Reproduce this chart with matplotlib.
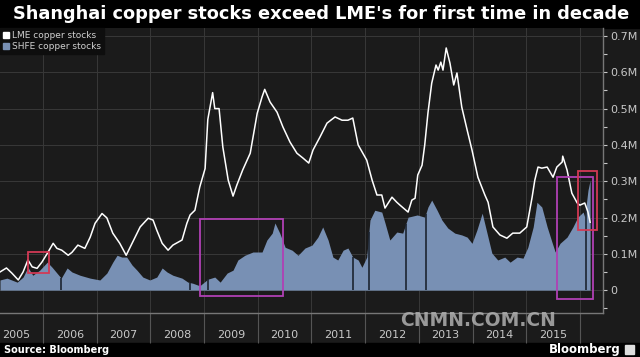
import numpy as np
import matplotlib.pyplot as plt
from matplotlib.patches import Rectangle

# LME copper stocks (million tonnes), dates as decimal years
lme_dates = [2005.20, 2005.32, 2005.42, 2005.54, 2005.63, 2005.72, 2005.80, 2005.89, 2005.98,
             2006.08, 2006.19, 2006.26, 2006.35, 2006.47, 2006.54, 2006.65, 2006.78, 2006.88, 2006.97,
             2007.10, 2007.19, 2007.30, 2007.43, 2007.55, 2007.66, 2007.81, 2007.96,
             2008.05, 2008.12, 2008.22, 2008.33, 2008.42, 2008.59, 2008.68, 2008.74, 2008.83, 2008.92,
             2009.02, 2009.07, 2009.16, 2009.20, 2009.28, 2009.35, 2009.45, 2009.54, 2009.61, 2009.72, 2009.86, 2009.99,
             2010.08, 2010.13, 2010.23, 2010.36, 2010.47, 2010.60, 2010.73, 2010.84, 2010.95,
             2011.03, 2011.16, 2011.29, 2011.44, 2011.57, 2011.68, 2011.77, 2011.87,
             2012.03, 2012.13, 2012.22, 2012.31, 2012.37, 2012.50, 2012.59, 2012.65, 2012.80, 2012.87, 2012.93, 2012.98,
             2013.06, 2013.11, 2013.17, 2013.24, 2013.32, 2013.36, 2013.41, 2013.45, 2013.51, 2013.58, 2013.65, 2013.71,
             2013.80, 2013.90, 2013.99,
             2014.10, 2014.23, 2014.29, 2014.38, 2014.51, 2014.64, 2014.75, 2014.88,
             2015.01, 2015.11, 2015.16, 2015.22, 2015.29, 2015.39, 2015.50, 2015.57, 2015.67, 2015.68, 2015.76,
             2015.85, 2015.95, 2016.00, 2016.09, 2016.15, 2016.19]
lme_stocks = [0.050, 0.061, 0.047, 0.028, 0.050, 0.083, 0.064, 0.060, 0.077,
              0.101, 0.129, 0.115, 0.110, 0.096, 0.104, 0.124, 0.115, 0.146, 0.184,
              0.211, 0.199, 0.157, 0.129, 0.096, 0.129, 0.174, 0.198,
              0.193, 0.165, 0.129, 0.110, 0.124, 0.138, 0.184, 0.207, 0.220, 0.284,
              0.335, 0.470, 0.544, 0.500, 0.500, 0.394, 0.303, 0.259, 0.289, 0.331, 0.377, 0.487,
              0.532, 0.553, 0.518, 0.490, 0.449, 0.408, 0.377, 0.364, 0.350,
              0.386, 0.422, 0.460, 0.477, 0.468, 0.468, 0.474, 0.400,
              0.358, 0.303, 0.262, 0.262, 0.226, 0.256, 0.242, 0.234, 0.215, 0.248, 0.253, 0.317,
              0.344, 0.400, 0.488, 0.570, 0.620, 0.606, 0.628, 0.606, 0.667, 0.625, 0.565, 0.598,
              0.504, 0.441, 0.386,
              0.311, 0.262, 0.242, 0.174, 0.152, 0.143, 0.157, 0.157,
              0.174, 0.256, 0.303, 0.339, 0.336, 0.339, 0.311, 0.339, 0.353, 0.369, 0.331,
              0.267, 0.240, 0.234, 0.240, 0.215, 0.187]

# SHFE copper stocks (million tonnes)
shfe_dates = [2005.20, 2005.33, 2005.52, 2005.63, 2005.72, 2005.81, 2005.94,
              2006.08, 2006.17, 2006.26, 2006.34, 2006.45, 2006.54, 2006.69, 2006.88,
              2007.06, 2007.19, 2007.30, 2007.38, 2007.47, 2007.56, 2007.66, 2007.75, 2007.86, 2007.99,
              2008.12, 2008.22, 2008.31, 2008.42, 2008.59, 2008.70, 2008.79, 2008.92,
              2009.07, 2009.20, 2009.30, 2009.43, 2009.54, 2009.63, 2009.76, 2009.91,
              2010.08, 2010.17, 2010.27, 2010.32, 2010.41, 2010.51, 2010.64, 2010.75, 2010.88,
              2011.01, 2011.12, 2011.21, 2011.31, 2011.40, 2011.49, 2011.59, 2011.68, 2011.77, 2011.87, 2011.94,
              2012.03, 2012.09, 2012.18, 2012.31, 2012.37, 2012.46, 2012.59, 2012.70, 2012.80, 2012.97,
              2013.11, 2013.17, 2013.24, 2013.34, 2013.43, 2013.54, 2013.67, 2013.80, 2013.90, 2013.99,
              2014.08, 2014.18, 2014.27, 2014.36, 2014.47, 2014.60, 2014.70, 2014.83, 2014.94,
              2015.03, 2015.13, 2015.20, 2015.29, 2015.39, 2015.48, 2015.54, 2015.63, 2015.76, 2015.87, 2015.96,
              2016.06, 2016.09, 2016.15, 2016.19]
shfe_stocks = [0.028, 0.033, 0.022, 0.036, 0.063, 0.041, 0.055,
               0.077, 0.063, 0.047, 0.033, 0.061, 0.050, 0.041, 0.033,
               0.028, 0.047, 0.077, 0.096, 0.091, 0.091, 0.069, 0.055, 0.036, 0.028,
               0.036, 0.061, 0.050, 0.041, 0.033, 0.022, 0.019, 0.012,
               0.030, 0.036, 0.022, 0.047, 0.055, 0.083, 0.096, 0.105,
               0.105, 0.138, 0.157, 0.185, 0.157, 0.118, 0.110, 0.096, 0.116,
               0.124, 0.146, 0.174, 0.138, 0.091, 0.083, 0.110, 0.116, 0.091, 0.083, 0.063,
               0.091, 0.193, 0.220, 0.215, 0.185, 0.138, 0.160, 0.157, 0.201, 0.207,
               0.201, 0.229, 0.248, 0.220, 0.193, 0.171, 0.157, 0.152, 0.146, 0.129,
               0.165, 0.212, 0.157, 0.102, 0.083, 0.091, 0.077, 0.091, 0.088,
               0.118, 0.174, 0.242, 0.229, 0.174, 0.132, 0.105, 0.129, 0.146, 0.174, 0.201,
               0.215, 0.201, 0.275, 0.303]
# days where the SHFE series drops to zero
shfe_gaps = [2006.34, 2008.74, 2009.07, 2011.77, 2012.07, 2012.76, 2013.13, 2016.11]

years = list(range(2005, 2016))
y_ticks = [0, 0.1, 0.2, 0.3, 0.4, 0.5, 0.6, 0.7]
y_labels = ["0", "0.1M", "0.2M", "0.3M", "0.4M", "0.5M", "0.6M", "0.7M"]

# highlight boxes: (x0, x1, y0, y1, colour)
boxes = [(2005.72, 2006.11, 0.047, 0.105, "#d23a55"),
         (2008.92, 2010.47, -0.017, 0.196, "#b040b4"),
         (2015.57, 2016.24, -0.025, 0.311, "#b040b4"),
         (2015.96, 2016.32, 0.165, 0.328, "#d23a55")]

bg = "#1b1b1b"
fig = plt.figure(figsize=(6.4, 3.57), dpi=100, facecolor=bg)
ax = fig.add_axes([0, 1 - 313 / 357, 603 / 640, 285 / 357])
ax.set_facecolor(bg)

ax.fill_between(shfe_dates, 0, shfe_stocks, color="#7890b4", lw=0, zorder=2)
ax.vlines(shfe_gaps, 0, np.interp(shfe_gaps, shfe_dates, shfe_stocks), color="#1c2430", lw=1.2, zorder=3)
ax.plot(lme_dates, lme_stocks, color="white", lw=1.1, zorder=4)

for x0, x1, y0, y1, c in boxes:
    ax.add_patch(Rectangle((x0, y0), x1 - x0, y1 - y0, fill=False, ec=c, lw=1.3, zorder=5))

ax.set_xlim(2005.2, 2016.43)
ax.set_ylim(-0.063, 0.722)

ax.yaxis.tick_right()
ax.set_yticks(y_ticks)
ax.set_yticklabels(y_labels)
ax.set_yticks(np.arange(-0.05, 0.72, 0.05), minor=True)
ax.tick_params(axis="y", which="both", colors="#c8c8c8", labelsize=8, length=3, width=0.8, pad=2)

ax.set_xticks([y + 1 for y in years])
ax.set_xticklabels([])
ax.set_xticks([y + 0.5 for y in years], minor=True)
ax.set_xticklabels([str(y) for y in years], minor=True)
ax.tick_params(axis="x", which="major", direction="out", length=21.5, color="#555555", width=0.8)
ax.tick_params(axis="x", which="minor", length=0, labelsize=8, labelcolor="#c8c8c8", pad=12)

ax.grid(True, which="major", color="#383838", lw=0.7, zorder=0)
for side in ["top", "left"]:
    ax.spines[side].set_visible(False)
for side in ["bottom", "right"]:
    ax.spines[side].set_color("#777777")
    ax.spines[side].set_linewidth(1)

leg = ax.legend(handles=[Rectangle((0, 0), 1, 1, color="white"), Rectangle((0, 0), 1, 1, color="#7890b4")],
                labels=["LME copper stocks", "SHFE copper stocks"], loc="upper left",
                bbox_to_anchor=(0, 1), fontsize=6.5, frameon=True, facecolor="#0e0e0e", edgecolor="#0e0e0e",
                framealpha=1, fancybox=False, handlelength=0.7, handleheight=0.7, handletextpad=0.3,
                borderpad=0.35, labelspacing=0.2, borderaxespad=0)
for t in leg.get_texts():
    t.set_color("#d0d0d0")

# black title and footer bands
fig.add_artist(Rectangle((0, 1 - 28 / 357), 1, 28 / 357, transform=fig.transFigure, color="black", zorder=0))
fig.add_artist(Rectangle((0, 0), 1, 14 / 357, transform=fig.transFigure, color="black", zorder=0))
fig.text(13 / 640, 1 - 14 / 357, "Shanghai copper stocks exceed LME's for first time in decade",
         color="white", fontsize=12.8, fontweight="bold", va="center", ha="left")
fig.text(4 / 640, 7 / 357, "Source: Bloomberg", color="white", fontsize=7, fontweight="bold", va="center")
fig.text(621 / 640, 7 / 357, "Bloomberg", color="white", fontsize=8.5, fontweight="bold", va="center", ha="right")
fig.add_artist(Rectangle((625 / 640, 3 / 357), 9 / 640, 9 / 357, transform=fig.transFigure, color="#dddddd"))
fig.text(478 / 640, 1 - 320 / 357, "CNMN.COM.CN", color="#b0b0b0", alpha=0.85, fontsize=13.5,
         fontweight="bold", ha="center", va="center")

fig.savefig("out.png", dpi=100, facecolor=bg)
